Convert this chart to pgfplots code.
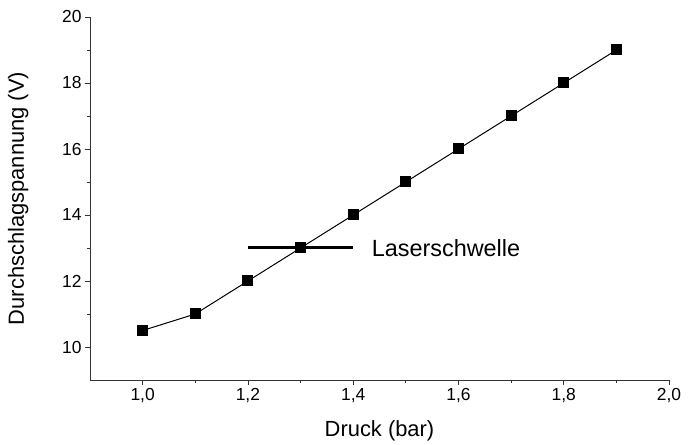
\documentclass[border=0pt]{standalone}
\usepackage{pgfplots}
\pgfplotsset{compat=1.18}
\usepackage{fontspec}
\setmainfont{Liberation Sans}
\begin{document}
\begin{tikzpicture}
\begin{axis}[
  scale only axis,
  width=579bp, height=363bp,
  xmin=0.9, xmax=2.0, ymin=9, ymax=20,
  axis x line*=bottom, axis y line*=left,
  axis line style={line width=0.8bp, black!80},
  xtick={1.0,1.2,1.4,1.6,1.8,2.0}, ytick={10,12,14,16,18,20},
  xticklabels={{1,0},{1,2},{1,4},{1,6},{1,8},{2,0}},
  yticklabels={10,12,14,16,18,20},
  minor x tick num=1, minor y tick num=1,
  tick align=outside,
  major tick length=5bp, minor tick length=3bp,
  tick style={line width=0.8bp, black!80},
  tick label style={font=\fontsize{17.5}{20}\selectfont},
  xlabel={Druck (bar)}, ylabel={Durchschlagspannung (V)},
  label style={font=\fontsize{22}{26}\selectfont},
  xlabel style={at={(axis description cs:0.5,-0.157)}, anchor=base, inner sep=0pt},
  ylabel style={at={(axis description cs:-0.106,0.5)}, anchor=south, inner sep=0pt},
  clip=false,
]
\addplot[black, line width=1bp, mark=square*, mark size=5bp] coordinates {
  (1.0,10.5) (1.1,11) (1.2,12) (1.3,13) (1.4,14) (1.5,15) (1.6,16) (1.7,17) (1.8,18) (1.9,19)
};
\addplot[black, line width=3bp, mark=none] coordinates {(1.2,13) (1.4,13)};
\node[anchor=west, inner sep=0pt, font=\fontsize{23.5}{26}\selectfont] at (axis cs:1.435,13) {Laserschwelle};
\end{axis}
\pgfresetboundingbox
\path (current axis.south west) ++(-90bp,-65bp) coordinate (bl);
\path (current axis.north east) ++(19bp,17bp) coordinate (tr);
\path[use as bounding box] (bl) rectangle (tr);
\end{tikzpicture}
\end{document}
